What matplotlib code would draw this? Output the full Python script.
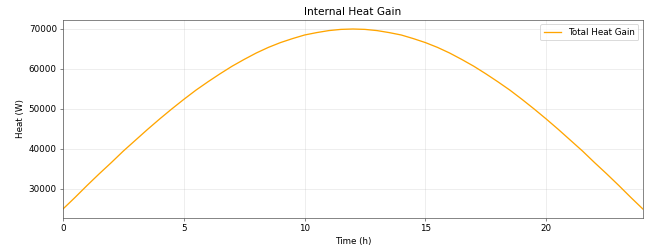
import matplotlib
matplotlib.use("Agg")
import matplotlib.pyplot as plt

# half-hourly total internal heat gain (W)
hours = [i / 2 for i in range(49)]
heat_gain = [25000, 27900, 30900, 33800, 36600, 39500, 42200, 44900,
             47500, 50000, 52400, 54700, 56800, 58800, 60700, 62400,
             64000, 65400, 66600, 67600, 68500, 69100, 69600, 69900,
             70000,
             69900, 69600, 69100, 68500, 67600, 66600, 65400, 64000,
             62400, 60700, 58800, 56800, 54700, 52400, 50000, 47500,
             44900, 42200, 39500, 36600, 33800, 30900, 27900, 25000]

fig, ax = plt.subplots(figsize=(652 / 63, 249 / 63), dpi=63)
fig.subplots_adjust(left=0.0966, right=0.986, bottom=0.1245, top=0.9197)

ax.plot(hours, heat_gain, color="orange", linewidth=1.5, label="Total Heat Gain")
ax.set_xlim(0, 24)
ax.set_title("Internal Heat Gain")
ax.set_xlabel("Time (h)")
ax.set_ylabel("Heat (W)")
ax.grid(True, alpha=0.3)
ax.legend(loc="upper right")

for s in ax.spines.values():
    s.set_color("#555555")
ax.tick_params(color="#555555")

fig.savefig("out.png", dpi=63)
